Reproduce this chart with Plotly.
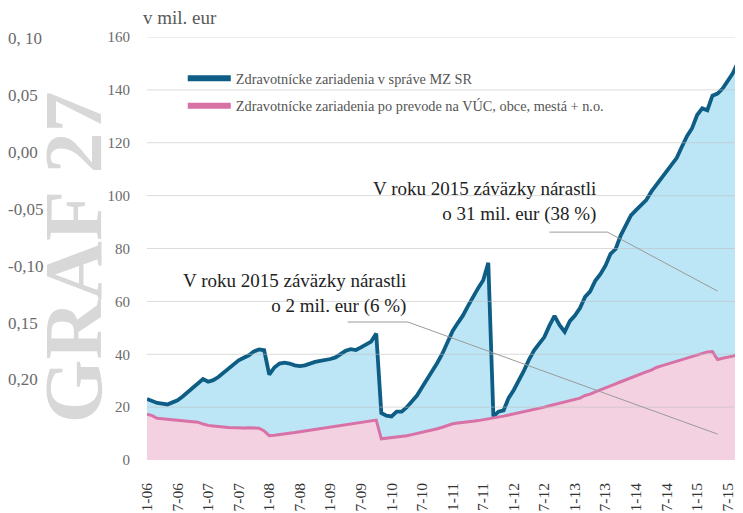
import plotly.graph_objects as go

# ---- data (monthly, 1-2006 .. 10-2015), values in mil. eur ----
mz_sr = [23.1, 22.3, 21.6, 21.3, 21.0, 21.8, 22.6, 24.0, 25.6, 27.5,
         29.2, 30.6, 29.6, 30.2, 31.4, 33.0, 34.5, 36.0, 37.7, 38.7,
         39.6, 41.1, 41.8, 41.5, 32.3, 35.0, 36.5, 36.8, 36.5, 35.8,
         35.5, 35.8, 36.5, 37.1, 37.5, 37.8, 38.2, 38.8, 40.0, 41.3,
         41.9, 41.6, 42.6, 43.8, 44.8, 47.8, 17.8, 16.8, 16.5, 18.3,
         18.3, 20.0, 22.3, 24.4, 27.5, 30.5, 33.7, 36.8, 40.3, 44.3,
         48.8, 51.8, 54.6, 58.2, 61.8, 65.0, 68.0, 74.6, 16.5, 18.3,
         18.8, 23.5, 26.5, 29.8, 33.8, 38.0, 41.5, 44.0, 46.5, 50.8,
         54.5, 51.0, 48.5, 52.5, 54.6, 57.5, 61.7, 63.8, 67.8, 70.3,
         73.5, 78.0, 79.8, 85.0, 89.0, 92.5, 94.5, 96.5, 98.3, 101.5,
         104.0, 106.5, 109.5, 112.0, 114.3, 118.5, 122.5, 125.5, 130.5, 133.0,
         132.3, 137.8, 138.6, 140.5, 143.5, 146.3, 150.5, 154.5]

vuc = [17.3, 16.8, 15.8, 15.6, 15.4, 15.2, 14.9, 14.7, 14.5, 14.5,
       14.3, 13.6, 13.1, 12.9, 12.6, 12.5, 12.3, 12.2, 12.2, 12.1,
       12.2, 12.2, 12.0, 11.0, 9.2, 9.4, 9.6, 9.9, 10.1, 10.4,
       10.7, 11.0, 11.3, 11.7, 12.0, 12.2, 12.5, 12.8, 13.1, 13.4,
       13.6, 13.9, 14.2, 14.5, 14.8, 15.1, 8.0, 8.2, 8.4, 8.6,
       8.8, 9.2, 9.6, 10.0, 10.5, 11.0, 11.3, 11.8, 12.4, 13.2,
       13.7, 14.0, 14.3, 14.5, 14.7, 14.9, 15.2, 15.5, 15.8, 16.2,
       16.6, 17.0, 17.4, 17.8, 18.2, 18.6, 19.0, 19.4, 20.0, 20.5,
       21.0, 21.5, 22.0, 22.4, 22.9, 23.4, 24.4, 24.9, 25.8, 26.5,
       27.2, 28.0, 28.8, 29.6, 30.4, 31.2, 31.8, 32.6, 33.3, 34.0,
       35.0, 35.6, 36.2, 36.8, 37.5, 38.0, 38.7, 39.2, 39.8, 40.5,
       40.9, 41.0, 38.0, 38.5, 38.9, 39.3, 40.0, 40.9]

months = list(range(len(mz_sr)))

x_tick_vals = list(range(0, 115, 6))
x_tick_text = ["1-06", "7-06", "1-07", "7-07", "1-08", "7-08", "1-09", "7-09",
               "1-10", "7-10", "1-11", "7-11", "1-12", "7-12", "1-13", "7-13",
               "1-14", "7-14", "1-15", "7-15"]
y_tick_vals = [0, 20, 40, 60, 80, 100, 120, 140, 160]
side_labels = ["0, 10", "0,05", "0,00", "-0,05", "-0,10", "0,15", "0,20"]

series_names = ["Zdravotnícke zariadenia v správe MZ SR",
                "Zdravotnícke zariadenia po prevode na VÚC, obce, mestá + n.o."]

note_texts = ["V roku 2015 záväzky nárastli<br>o 2 mil. eur (6 %)",
              "V roku 2015 záväzky nárastli<br>o 31 mil. eur (38 %)"]

FONT = "Liberation Serif, Times New Roman, serif"
BLUE_LINE = "#0e5d84"
BLUE_FILL = "#bce6f6"
PINK_LINE = "#d872a6"
PINK_FILL = "#f3d1e1"

fig = go.Figure()

fig.add_trace(go.Scatter(x=months, y=mz_sr, mode="lines", fill="tozeroy",
                         fillcolor=BLUE_FILL,
                         line=dict(color=BLUE_LINE, width=3.8),
                         showlegend=False, hoverinfo="skip"))
fig.add_trace(go.Scatter(x=months, y=vuc, mode="lines", fill="tozeroy",
                         fillcolor=PINK_FILL,
                         line=dict(color=PINK_LINE, width=3),
                         showlegend=False, hoverinfo="skip"))

# legend entries
fig.add_trace(go.Scatter(x=[None], y=[None], mode="lines", name=series_names[0],
                         legendgroup="a",
                         line=dict(color=BLUE_LINE, width=6)))
fig.add_trace(go.Scatter(x=[None], y=[None], mode="lines", name=series_names[1],
                         legendgroup="b",
                         line=dict(color=PINK_LINE, width=6)))

# invisible trace for the secondary (left) scale
fig.add_trace(go.Scatter(x=[None], y=[None], yaxis="y2", showlegend=False))

shapes = []
# gridlines above fills
for v in y_tick_vals[1:]:
    shapes.append(dict(type="line", xref="paper", x0=0, x1=1, yref="y", y0=v, y1=v,
                       line=dict(color="rgba(190,190,190,0.55)", width=1), layer="above"))
# leader lines for notes
shapes.append(dict(type="path", xref="x", yref="y",
                   path="M 39.4 52.2 L 51.2 52.2 L 112 9.8",
                   line=dict(color="#9a9a9a", width=1), layer="above"))
shapes.append(dict(type="path", xref="x", yref="y",
                   path="M 79.0 86.2 L 90.4 86.2 L 112 63.9",
                   line=dict(color="#9a9a9a", width=1), layer="above"))

annotations = []
# big watermark
annotations.append(dict(text="<b>GRAF 27</b>", xref="paper", yref="paper",
                        x=-0.122, y=0.48, xanchor="center", yanchor="middle",
                        textangle=-90, showarrow=False,
                        font=dict(family=FONT, size=82, color="#d8d8d8")))
# side labels (secondary scale)
for i, t in enumerate(side_labels):
    annotations.append(dict(text=t, xref="paper", yref="y2", x=-0.236, y=-i,
                            xanchor="left", yanchor="middle", showarrow=False,
                            font=dict(family=FONT, size=17, color="#6a6a6a")))
# unit title
annotations.append(dict(text="v mil. eur", xref="paper", yref="paper",
                        x=-0.01, y=1.045, xanchor="left", yanchor="middle",
                        showarrow=False,
                        font=dict(family=FONT, size=19, color="#5a5a5a")))
# notes
annotations.append(dict(text=note_texts[0], x=51.3, y=62.8, xref="x", yref="y",
                        xanchor="right", yanchor="middle", align="right",
                        showarrow=False, font=dict(family=FONT, size=19, color="#222222")))
annotations.append(dict(text=note_texts[1], x=88.6, y=97.8, xref="x", yref="y",
                        xanchor="right", yanchor="middle", align="right",
                        showarrow=False, font=dict(family=FONT, size=19, color="#222222")))

# page body has an 8px default margin, so the figure is 8px smaller each way
fig.update_layout(
    width=735, height=505,
    margin=dict(l=139, r=0, t=29, b=53, autoexpand=False),
    paper_bgcolor="white", plot_bgcolor="white",
    font=dict(family=FONT, color="#555555"),
    showlegend=True,
    legend=dict(x=0.06, y=0.94, xanchor="left", yanchor="top",
                bgcolor="rgba(0,0,0,0)", itemwidth=43, tracegroupgap=6,
                font=dict(family=FONT, size=14.3, color="#555555")),
    xaxis=dict(range=[0, 117], tickmode="array", tickvals=x_tick_vals,
               ticktext=x_tick_text, tickangle=-90, showgrid=False,
               zeroline=False, showline=False, ticks="", automargin=False,
               ticklabelstandoff=19,
               tickfont=dict(family=FONT, size=15.5, color="#333333")),
    yaxis=dict(range=[0, 160], tickmode="array", tickvals=y_tick_vals,
               showgrid=False, zeroline=False, showline=False, ticks="",
               automargin=False, ticklabelstandoff=16,
               tickfont=dict(family=FONT, size=15, color="#6a6a6a")),
    yaxis2=dict(range=[-7.408, 0.035], overlaying="y", visible=False),
    shapes=shapes,
    annotations=annotations,
)

fig.write_html("out.html")
